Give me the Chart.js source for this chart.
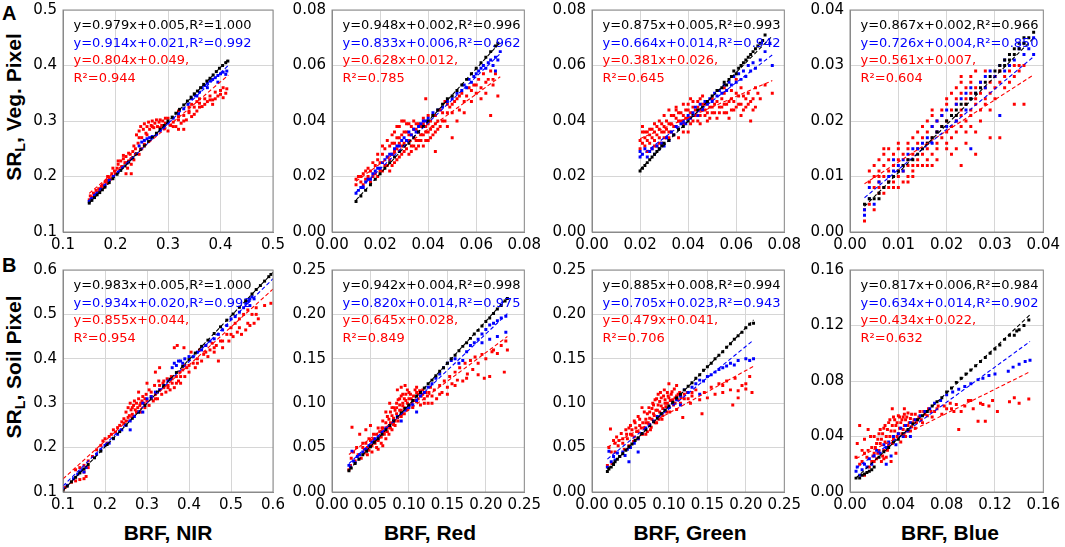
<!DOCTYPE html>
<html lang="en">
<head>
<meta charset="UTF-8">
<title>SR vs BRF</title>
<script src="https://cdn.jsdelivr.net/npm/chart.js"></script>
<style>
    body { margin: 0; width: 1065px; height: 547px; overflow: hidden; background: #fff; position: relative; }
    .box { position: absolute; }
    .lbl { position: absolute; font-family: "Liberation Sans", Arial, sans-serif; font-weight: bold; color: #000; white-space: nowrap; }
    .ytitle { font-size: 21px; transform: translate(-50%, -50%) rotate(-90deg); }
    .ytitle sub { font-size: 0.68em; vertical-align: -0.25em; }
    .xtitle { font-size: 21px; transform: translate(-50%, -50%); }
    .panel { font-size: 20px; }
</style>
</head>
<body>
<div class="lbl panel" style="left:2px;top:2px">A</div>
<div class="lbl panel" style="left:2px;top:254px">B</div>
<div class="lbl ytitle" style="left:15px;top:107px">SR<sub>L</sub>, Veg. Pixel</div>
<div class="lbl ytitle" style="left:15px;top:367px">SR<sub>L</sub>, Soil Pixel</div>
<div class="lbl xtitle" style="left:168px;top:533px">BRF, NIR</div>
<div class="lbl xtitle" style="left:430px;top:533px">BRF, Red</div>
<div class="lbl xtitle" style="left:690px;top:533px">BRF, Green</div>
<div class="lbl xtitle" style="left:950px;top:533px">BRF, Blue</div>

<script>
// ---- data: flat [x, y, x, y, ...] lists ----

// Row A: vegetation pixel
const vegNirBlack = [0.150,0.152, 0.155,0.157, 0.160,0.162, 0.165,0.167, 0.170,0.171, 0.175,0.176, 0.180,0.181, 0.188,0.189, 0.195,0.196, 0.203,0.204, 0.210,0.211, 0.218,0.219, 0.225,0.226, 0.233,0.234, 0.240,0.241, 0.248,0.249, 0.255,0.255, 0.263,0.263, 0.270,0.270, 0.278,0.278, 0.285,0.285, 0.293,0.292, 0.300,0.300, 0.308,0.307, 0.315,0.314, 0.322,0.321, 0.330,0.329, 0.337,0.336, 0.344,0.343, 0.350,0.349, 0.356,0.354, 0.362,0.360, 0.368,0.366, 0.374,0.372, 0.380,0.377, 0.386,0.383, 0.392,0.389, 0.398,0.395, 0.404,0.400, 0.410,0.405, 0.414,0.408];
const vegNirBlue = [0.150,0.155, 0.155,0.160, 0.160,0.166, 0.165,0.170, 0.172,0.177, 0.180,0.184, 0.188,0.193, 0.196,0.200, 0.205,0.208, 0.213,0.216, 0.222,0.224, 0.230,0.232, 0.238,0.240, 0.245,0.255, 0.250,0.262, 0.255,0.265, 0.260,0.268, 0.265,0.270, 0.270,0.272, 0.278,0.276, 0.285,0.282, 0.292,0.288, 0.300,0.296, 0.310,0.305, 0.320,0.313, 0.330,0.322, 0.338,0.330, 0.345,0.340, 0.352,0.346, 0.360,0.352, 0.365,0.360, 0.370,0.364, 0.375,0.368, 0.380,0.372, 0.385,0.375, 0.390,0.378, 0.395,0.382, 0.400,0.385, 0.405,0.388, 0.410,0.384, 0.412,0.390, 0.395,0.370, 0.375,0.360, 0.355,0.345];
const vegNirRed = [0.150,0.158, 0.152,0.165, 0.155,0.163, 0.158,0.170, 0.160,0.168, 0.163,0.175, 0.165,0.172, 0.168,0.178, 0.170,0.176, 0.173,0.182, 0.175,0.185, 0.178,0.180, 0.180,0.190, 0.183,0.193, 0.185,0.188, 0.188,0.198, 0.190,0.195, 0.193,0.205, 0.195,0.200, 0.198,0.210, 0.200,0.205, 0.203,0.215, 0.205,0.222, 0.208,0.212, 0.210,0.228, 0.212,0.218, 0.215,0.232, 0.218,0.225, 0.220,0.236, 0.223,0.215, 0.225,0.228, 0.228,0.240, 0.230,0.222, 0.233,0.245, 0.235,0.230, 0.238,0.250, 0.240,0.275, 0.243,0.260, 0.245,0.282, 0.248,0.290, 0.250,0.270, 0.253,0.285, 0.255,0.295, 0.258,0.278, 0.260,0.290, 0.263,0.298, 0.265,0.285, 0.268,0.292, 0.270,0.300, 0.273,0.288, 0.275,0.296, 0.278,0.302, 0.280,0.290, 0.283,0.298, 0.285,0.302, 0.288,0.292, 0.290,0.300, 0.293,0.286, 0.295,0.296, 0.300,0.282, 0.305,0.292, 0.310,0.298, 0.315,0.290, 0.320,0.302, 0.325,0.296, 0.330,0.310, 0.335,0.302, 0.340,0.315, 0.345,0.308, 0.350,0.325, 0.355,0.318, 0.360,0.332, 0.365,0.326, 0.370,0.340, 0.375,0.335, 0.380,0.345, 0.385,0.338, 0.390,0.352, 0.395,0.345, 0.400,0.355, 0.405,0.342, 0.410,0.350, 0.412,0.358, 0.405,0.360, 0.385,0.330, 0.360,0.340, 0.340,0.325, 0.320,0.318, 0.250,0.250, 0.245,0.240, 0.255,0.258, 0.230,0.205, 0.220,0.205, 0.300,0.305,
    0.185,0.200, 0.195,0.215, 0.205,0.228, 0.215,0.238, 0.225,0.242, 0.235,0.255, 0.245,0.270, 0.260,0.275, 0.270,0.290, 0.285,0.288, 0.295,0.305, 0.310,0.290, 0.320,0.308, 0.330,0.300, 0.340,0.318, 0.350,0.312, 0.360,0.325, 0.370,0.330, 0.380,0.338, 0.390,0.340, 0.400,0.348, 0.355,0.335, 0.345,0.330, 0.330,0.285, 0.320,0.285];

const vegRedBlack = [0.010,0.011, 0.012,0.013, 0.014,0.015, 0.016,0.017, 0.018,0.019, 0.020,0.021, 0.022,0.023, 0.024,0.025, 0.026,0.027, 0.028,0.029, 0.030,0.031, 0.032,0.032, 0.034,0.034, 0.036,0.036, 0.038,0.038, 0.040,0.040, 0.042,0.042, 0.044,0.044, 0.046,0.046, 0.048,0.048, 0.050,0.049, 0.052,0.051, 0.054,0.053, 0.056,0.055, 0.058,0.057, 0.060,0.059, 0.062,0.061, 0.064,0.063, 0.066,0.065, 0.068,0.067, 0.069,0.068];
const vegRedBlue = [0.010,0.014, 0.011,0.015, 0.012,0.016, 0.013,0.016, 0.014,0.018, 0.015,0.019, 0.016,0.019, 0.017,0.021, 0.018,0.022, 0.019,0.023, 0.020,0.023, 0.021,0.025, 0.022,0.026, 0.023,0.027, 0.024,0.028, 0.025,0.028, 0.026,0.030, 0.027,0.031, 0.028,0.031, 0.029,0.033, 0.030,0.034, 0.031,0.033, 0.032,0.036, 0.033,0.035, 0.034,0.037, 0.035,0.036, 0.036,0.038, 0.037,0.039, 0.038,0.040, 0.039,0.040, 0.040,0.041, 0.042,0.043, 0.044,0.044, 0.046,0.045, 0.048,0.047, 0.050,0.048, 0.052,0.050, 0.054,0.051, 0.055,0.053, 0.056,0.052, 0.057,0.055, 0.058,0.054, 0.059,0.056, 0.060,0.057, 0.061,0.058, 0.062,0.059, 0.063,0.060, 0.064,0.059, 0.065,0.061, 0.066,0.062, 0.067,0.060, 0.068,0.063, 0.069,0.062, 0.070,0.065, 0.068,0.058];
const vegRedRed = [0.010,0.017, 0.010,0.019, 0.012,0.018, 0.012,0.020, 0.013,0.021, 0.014,0.019, 0.014,0.022, 0.015,0.020, 0.016,0.018, 0.016,0.022, 0.017,0.020, 0.018,0.024, 0.018,0.021, 0.019,0.026, 0.020,0.022, 0.020,0.025, 0.021,0.028, 0.022,0.024, 0.022,0.030, 0.023,0.027, 0.024,0.022, 0.024,0.031, 0.025,0.028, 0.025,0.035, 0.026,0.025, 0.026,0.032, 0.027,0.030, 0.027,0.038, 0.028,0.027, 0.028,0.034, 0.029,0.031, 0.029,0.040, 0.030,0.029, 0.030,0.036, 0.031,0.033, 0.031,0.039, 0.032,0.028, 0.032,0.035, 0.033,0.031, 0.033,0.038, 0.034,0.034, 0.034,0.040, 0.035,0.030, 0.035,0.037, 0.036,0.033, 0.036,0.039, 0.037,0.035, 0.038,0.031, 0.038,0.041, 0.039,0.036, 0.039,0.048, 0.040,0.033, 0.040,0.039, 0.041,0.037, 0.042,0.035, 0.042,0.042, 0.043,0.029, 0.043,0.039, 0.044,0.037, 0.045,0.044, 0.046,0.040, 0.047,0.047, 0.048,0.043, 0.049,0.045, 0.050,0.034, 0.050,0.046, 0.052,0.048, 0.053,0.044, 0.054,0.050, 0.055,0.043, 0.056,0.049, 0.057,0.052, 0.058,0.047, 0.059,0.053, 0.060,0.050, 0.061,0.055, 0.062,0.052, 0.063,0.057, 0.064,0.050, 0.065,0.055, 0.066,0.042, 0.066,0.058, 0.067,0.053, 0.068,0.057, 0.069,0.049,
    0.011,0.020, 0.013,0.017, 0.015,0.023, 0.017,0.025, 0.019,0.020, 0.019,0.028, 0.021,0.022, 0.021,0.031, 0.023,0.024, 0.023,0.033, 0.024,0.026, 0.025,0.024, 0.025,0.032, 0.026,0.029, 0.026,0.036, 0.027,0.026, 0.027,0.034, 0.028,0.032, 0.028,0.038, 0.029,0.028, 0.029,0.035, 0.030,0.032, 0.030,0.040, 0.031,0.030, 0.031,0.036, 0.032,0.033, 0.032,0.039, 0.033,0.029, 0.033,0.035, 0.034,0.031, 0.034,0.037, 0.035,0.033, 0.035,0.039, 0.036,0.031, 0.036,0.036, 0.037,0.033, 0.037,0.038, 0.038,0.035, 0.038,0.039, 0.039,0.033, 0.039,0.038, 0.040,0.036, 0.040,0.042, 0.041,0.034, 0.041,0.040, 0.042,0.038, 0.043,0.036, 0.043,0.042, 0.044,0.040, 0.045,0.038, 0.046,0.043, 0.047,0.040, 0.048,0.046, 0.050,0.043, 0.051,0.047, 0.053,0.049, 0.055,0.047, 0.058,0.051, 0.060,0.053, 0.062,0.048, 0.064,0.054, 0.067,0.055, 0.048,0.038, 0.052,0.040];

const vegGreenBlack = [0.020,0.022, 0.021,0.023, 0.022,0.024, 0.023,0.025, 0.024,0.026, 0.025,0.027, 0.026,0.028, 0.027,0.029, 0.028,0.030, 0.029,0.031, 0.030,0.032, 0.032,0.033, 0.034,0.035, 0.036,0.037, 0.038,0.038, 0.040,0.040, 0.042,0.042, 0.044,0.044, 0.046,0.045, 0.048,0.047, 0.050,0.049, 0.052,0.051, 0.054,0.052, 0.055,0.054, 0.056,0.053, 0.057,0.055, 0.058,0.056, 0.059,0.058, 0.060,0.057, 0.061,0.059, 0.062,0.060, 0.063,0.061, 0.064,0.062, 0.065,0.063, 0.066,0.064, 0.067,0.065, 0.068,0.066, 0.069,0.067, 0.070,0.068, 0.071,0.069, 0.072,0.071];
const vegGreenBlue = [0.020,0.027, 0.020,0.029, 0.021,0.028, 0.022,0.030, 0.023,0.027, 0.024,0.029, 0.025,0.030, 0.026,0.028, 0.027,0.031, 0.028,0.030, 0.029,0.032, 0.030,0.031, 0.031,0.034, 0.032,0.033, 0.033,0.036, 0.034,0.035, 0.035,0.038, 0.036,0.037, 0.037,0.039, 0.038,0.040, 0.039,0.039, 0.040,0.042, 0.041,0.041, 0.042,0.043, 0.043,0.045, 0.044,0.042, 0.045,0.046, 0.046,0.044, 0.047,0.047, 0.048,0.046, 0.049,0.048, 0.050,0.047, 0.051,0.050, 0.052,0.049, 0.053,0.051, 0.054,0.050, 0.055,0.053, 0.056,0.051, 0.057,0.054, 0.058,0.053, 0.059,0.056, 0.060,0.054, 0.061,0.057, 0.062,0.055, 0.063,0.058, 0.064,0.056, 0.065,0.060, 0.066,0.058, 0.067,0.061, 0.068,0.059, 0.070,0.062, 0.072,0.065, 0.075,0.060, 0.074,0.068];
const vegGreenRed = [0.020,0.030, 0.020,0.033, 0.021,0.036, 0.021,0.038, 0.022,0.031, 0.022,0.034, 0.023,0.029, 0.023,0.036, 0.024,0.032, 0.024,0.035, 0.025,0.030, 0.025,0.037, 0.026,0.033, 0.026,0.036, 0.027,0.031, 0.027,0.038, 0.028,0.034, 0.028,0.040, 0.029,0.032, 0.029,0.036, 0.030,0.038, 0.030,0.042, 0.031,0.034, 0.031,0.040, 0.032,0.036, 0.032,0.044, 0.033,0.039, 0.034,0.035, 0.034,0.042, 0.035,0.038, 0.035,0.045, 0.036,0.040, 0.036,0.034, 0.037,0.043, 0.038,0.039, 0.038,0.046, 0.039,0.041, 0.040,0.036, 0.040,0.044, 0.041,0.048, 0.042,0.040, 0.042,0.045, 0.043,0.042, 0.044,0.047, 0.045,0.039, 0.045,0.044, 0.046,0.049, 0.047,0.042, 0.047,0.046, 0.048,0.040, 0.049,0.045, 0.050,0.043, 0.050,0.048, 0.051,0.046, 0.052,0.041, 0.053,0.045, 0.054,0.048, 0.055,0.043, 0.055,0.050, 0.056,0.046, 0.057,0.041, 0.058,0.048, 0.059,0.044, 0.060,0.050, 0.060,0.055, 0.061,0.046, 0.062,0.042, 0.063,0.049, 0.064,0.045, 0.065,0.050, 0.066,0.040, 0.066,0.047, 0.067,0.044, 0.068,0.052, 0.070,0.048, 0.072,0.053, 0.075,0.050,
    0.021,0.032, 0.022,0.036, 0.023,0.033, 0.024,0.037, 0.025,0.034, 0.026,0.031, 0.026,0.039, 0.027,0.035, 0.028,0.032, 0.028,0.037, 0.029,0.039, 0.030,0.034, 0.030,0.036, 0.031,0.037, 0.032,0.039, 0.032,0.034, 0.033,0.042, 0.033,0.036, 0.034,0.038, 0.035,0.041, 0.036,0.043, 0.036,0.037, 0.037,0.040, 0.038,0.042, 0.038,0.036, 0.039,0.044, 0.040,0.041, 0.041,0.043, 0.041,0.039, 0.042,0.047, 0.043,0.044, 0.044,0.040, 0.044,0.045, 0.045,0.042, 0.046,0.046, 0.047,0.044, 0.048,0.043, 0.048,0.047, 0.049,0.041, 0.050,0.045, 0.051,0.043, 0.052,0.047, 0.053,0.043, 0.054,0.045, 0.055,0.046, 0.056,0.043, 0.057,0.047, 0.058,0.044, 0.059,0.047, 0.060,0.045, 0.061,0.049, 0.062,0.046, 0.063,0.044, 0.064,0.048, 0.065,0.046, 0.067,0.048, 0.068,0.045, 0.069,0.050, 0.055,0.052, 0.058,0.051, 0.062,0.052, 0.035,0.044, 0.040,0.046, 0.045,0.048];

const vegBlueBlack = [0.003,0.005, 0.004,0.006, 0.005,0.006, 0.006,0.006, 0.006,0.007, 0.007,0.008, 0.008,0.009, 0.009,0.010, 0.010,0.011, 0.011,0.012, 0.012,0.013, 0.013,0.013, 0.014,0.014, 0.015,0.015, 0.016,0.016, 0.017,0.017, 0.018,0.018, 0.019,0.019, 0.020,0.020, 0.021,0.021, 0.022,0.021, 0.022,0.022, 0.023,0.023, 0.024,0.023, 0.025,0.024, 0.026,0.025, 0.027,0.026, 0.028,0.027, 0.029,0.028, 0.030,0.029, 0.031,0.029, 0.031,0.030, 0.032,0.030, 0.032,0.031, 0.033,0.031, 0.033,0.032, 0.034,0.032, 0.034,0.033, 0.035,0.033, 0.035,0.034, 0.036,0.034, 0.036,0.035, 0.037,0.035, 0.038,0.036];
const vegBlueBlue = [0.003,0.003, 0.003,0.004, 0.004,0.006, 0.004,0.008, 0.005,0.005, 0.006,0.009, 0.008,0.010, 0.009,0.013, 0.010,0.012, 0.011,0.011, 0.011,0.013, 0.012,0.014, 0.013,0.015, 0.014,0.015, 0.015,0.016, 0.016,0.017, 0.017,0.019, 0.018,0.018, 0.018,0.020, 0.019,0.021, 0.020,0.019, 0.020,0.022, 0.021,0.021, 0.022,0.023, 0.022,0.020, 0.023,0.024, 0.024,0.022, 0.024,0.025, 0.025,0.024, 0.025,0.026, 0.026,0.025, 0.027,0.027, 0.028,0.026, 0.028,0.028, 0.029,0.029, 0.030,0.028, 0.031,0.021, 0.031,0.030, 0.032,0.029, 0.032,0.031, 0.033,0.030, 0.033,0.032, 0.034,0.031, 0.035,0.033, 0.036,0.032, 0.036,0.034, 0.037,0.033, 0.038,0.035, 0.038,0.032, 0.025,0.015, 0.017,0.016, 0.009,0.011];
const vegBlueRed = [0.003,0.002, 0.003,0.004, 0.005,0.004, 0.004,0.005, 0.006,0.007, 0.007,0.007,
    0.005,0.008, 0.006,0.008, 0.007,0.008, 0.008,0.008, 0.009,0.008, 0.010,0.008,
    0.004,0.009, 0.006,0.009, 0.008,0.009, 0.009,0.009, 0.011,0.009, 0.012,0.009,
    0.005,0.010, 0.006,0.010, 0.007,0.010, 0.009,0.010, 0.010,0.010, 0.012,0.010, 0.013,0.010,
    0.004,0.011, 0.006,0.011, 0.008,0.011, 0.010,0.011, 0.011,0.011, 0.013,0.011,
    0.005,0.012, 0.007,0.012, 0.009,0.012, 0.011,0.012, 0.012,0.012, 0.013,0.012, 0.014,0.012, 0.015,0.012, 0.016,0.012, 0.017,0.012, 0.023,0.012,
    0.006,0.013, 0.008,0.013, 0.010,0.013, 0.012,0.013, 0.014,0.013, 0.016,0.013, 0.018,0.013,
    0.007,0.014, 0.009,0.014, 0.011,0.014, 0.013,0.014, 0.015,0.014, 0.017,0.014, 0.021,0.014, 0.026,0.014,
    0.007,0.015, 0.008,0.015, 0.010,0.015, 0.012,0.015, 0.014,0.015, 0.016,0.015, 0.018,0.015, 0.020,0.015, 0.022,0.015,
    0.010,0.016, 0.012,0.016, 0.014,0.016, 0.016,0.016, 0.018,0.016, 0.020,0.016, 0.024,0.016,
    0.013,0.017, 0.015,0.017, 0.017,0.017, 0.019,0.017, 0.021,0.017, 0.029,0.017, 0.031,0.017,
    0.014,0.018, 0.016,0.018, 0.018,0.018, 0.020,0.018, 0.022,0.018, 0.024,0.018, 0.026,0.018,
    0.015,0.019, 0.017,0.019, 0.019,0.019, 0.021,0.019, 0.023,0.019, 0.025,0.019,
    0.016,0.020, 0.018,0.020, 0.020,0.020, 0.022,0.020, 0.024,0.020, 0.027,0.020,
    0.017,0.021, 0.019,0.021, 0.021,0.021, 0.023,0.021, 0.025,0.021,
    0.017,0.022, 0.019,0.022, 0.021,0.022, 0.023,0.022, 0.025,0.022, 0.027,0.022, 0.029,0.022,
    0.020,0.023, 0.022,0.023, 0.024,0.023, 0.026,0.023, 0.028,0.023, 0.034,0.023, 0.036,0.023,
    0.020,0.024, 0.022,0.024, 0.024,0.024, 0.026,0.024, 0.028,0.024, 0.030,0.024,
    0.021,0.025, 0.023,0.025, 0.025,0.025, 0.027,0.025, 0.029,0.025,
    0.022,0.026, 0.024,0.026, 0.026,0.026, 0.028,0.026, 0.030,0.026, 0.032,0.026,
    0.023,0.027, 0.025,0.027, 0.027,0.027, 0.029,0.027, 0.031,0.027, 0.033,0.027,
    0.023,0.028, 0.025,0.028, 0.030,0.028, 0.032,0.028, 0.034,0.028,
    0.026,0.029, 0.028,0.029, 0.031,0.029, 0.033,0.029, 0.035,0.029,
    0.033,0.030, 0.034,0.030, 0.035,0.030, 0.036,0.030];

// Row B: soil pixel
const soilNirBlack = [0.100,0.103, 0.110,0.113, 0.120,0.123, 0.130,0.133, 0.140,0.143, 0.150,0.152, 0.160,0.162, 0.175,0.177, 0.190,0.192, 0.205,0.207, 0.220,0.221, 0.235,0.236, 0.250,0.251, 0.265,0.266, 0.280,0.280, 0.295,0.295, 0.310,0.310, 0.325,0.325, 0.340,0.339, 0.355,0.354, 0.370,0.369, 0.385,0.383, 0.400,0.398, 0.415,0.413, 0.430,0.428, 0.445,0.442, 0.460,0.457, 0.475,0.472, 0.490,0.487, 0.505,0.501, 0.520,0.516, 0.535,0.531, 0.550,0.546, 0.560,0.556, 0.570,0.565, 0.580,0.575, 0.590,0.585, 0.595,0.590];
const soilNirBlue = [0.100,0.108, 0.110,0.115, 0.125,0.130, 0.135,0.140, 0.140,0.145, 0.145,0.150, 0.150,0.145, 0.155,0.155, 0.180,0.185, 0.190,0.195, 0.200,0.205, 0.210,0.210, 0.220,0.220, 0.230,0.230, 0.240,0.240, 0.250,0.250, 0.260,0.260, 0.270,0.270, 0.280,0.280, 0.290,0.300, 0.300,0.310, 0.310,0.315, 0.320,0.325, 0.330,0.330, 0.340,0.340, 0.350,0.350, 0.360,0.380, 0.365,0.390, 0.370,0.385, 0.375,0.395, 0.380,0.395, 0.385,0.390, 0.390,0.400, 0.400,0.405, 0.410,0.405, 0.420,0.415, 0.430,0.420, 0.440,0.430, 0.450,0.440, 0.460,0.445, 0.470,0.455, 0.480,0.465, 0.490,0.475, 0.500,0.490, 0.510,0.495, 0.520,0.505, 0.530,0.515, 0.535,0.525, 0.540,0.530, 0.545,0.535, 0.550,0.540, 0.555,0.535, 0.545,0.520, 0.260,0.240, 0.290,0.280];
const soilNirRed = [0.100,0.105, 0.105,0.110, 0.120,0.122, 0.130,0.125, 0.140,0.128, 0.150,0.130, 0.155,0.135, 0.130,0.150, 0.140,0.155, 0.150,0.160, 0.160,0.170, 0.170,0.180, 0.180,0.195, 0.190,0.205, 0.195,0.215, 0.200,0.220, 0.205,0.210, 0.210,0.225, 0.215,0.230, 0.220,0.240, 0.225,0.235, 0.230,0.245, 0.235,0.250, 0.240,0.258, 0.245,0.265, 0.250,0.280, 0.250,0.260, 0.255,0.290, 0.258,0.272, 0.260,0.300, 0.262,0.285, 0.265,0.275, 0.268,0.295, 0.270,0.305, 0.272,0.285, 0.275,0.300, 0.278,0.290, 0.280,0.310, 0.283,0.295, 0.285,0.280, 0.288,0.305, 0.290,0.315, 0.293,0.300, 0.295,0.290, 0.298,0.320, 0.300,0.305, 0.305,0.295, 0.305,0.330, 0.310,0.315, 0.315,0.305, 0.318,0.340, 0.320,0.320, 0.325,0.310, 0.328,0.350, 0.330,0.330, 0.335,0.320, 0.338,0.345, 0.340,0.335, 0.345,0.325, 0.348,0.355, 0.350,0.340, 0.355,0.330, 0.358,0.360, 0.360,0.345, 0.365,0.335, 0.365,0.425, 0.370,0.360, 0.372,0.430, 0.375,0.350, 0.378,0.370, 0.380,0.345, 0.385,0.375, 0.388,0.425, 0.390,0.360, 0.395,0.380, 0.400,0.370, 0.405,0.415, 0.410,0.390, 0.415,0.380, 0.420,0.400, 0.425,0.420, 0.430,0.395, 0.435,0.410, 0.440,0.430, 0.445,0.405, 0.450,0.420, 0.455,0.435, 0.460,0.415, 0.465,0.430, 0.470,0.395, 0.475,0.440, 0.480,0.425, 0.490,0.455, 0.495,0.440, 0.500,0.470, 0.505,0.450, 0.510,0.480, 0.515,0.460, 0.520,0.490, 0.525,0.455, 0.530,0.500, 0.535,0.465, 0.540,0.510, 0.545,0.475, 0.550,0.500, 0.555,0.480, 0.560,0.515, 0.565,0.490, 0.580,0.520, 0.595,0.525, 0.330,0.380, 0.320,0.370, 0.300,0.345, 0.280,0.325,
    0.245,0.255, 0.255,0.268, 0.265,0.290, 0.275,0.280, 0.285,0.300, 0.295,0.310, 0.310,0.325, 0.320,0.310, 0.330,0.340, 0.340,0.350, 0.350,0.335, 0.360,0.355, 0.370,0.345, 0.380,0.360, 0.390,0.385, 0.400,0.385, 0.420,0.390, 0.440,0.415, 0.460,0.425, 0.480,0.440, 0.500,0.455, 0.520,0.470, 0.540,0.480, 0.560,0.500, 0.150,0.145, 0.160,0.155];

const soilRedBlack = [0.022,0.024, 0.025,0.027, 0.030,0.032, 0.035,0.037, 0.040,0.042, 0.045,0.046, 0.050,0.051, 0.055,0.056, 0.060,0.060, 0.065,0.065, 0.070,0.070, 0.075,0.075, 0.080,0.080, 0.085,0.084, 0.090,0.089, 0.095,0.094, 0.100,0.098, 0.105,0.103, 0.110,0.108, 0.115,0.112, 0.120,0.117, 0.125,0.122, 0.130,0.126, 0.135,0.131, 0.140,0.136, 0.145,0.140, 0.150,0.145, 0.155,0.150, 0.160,0.154, 0.165,0.159, 0.170,0.164, 0.175,0.168, 0.180,0.173, 0.185,0.178, 0.190,0.182, 0.195,0.187, 0.200,0.192, 0.205,0.196, 0.210,0.201, 0.215,0.206, 0.220,0.210, 0.225,0.215, 0.228,0.218];
const soilRedBlue = [0.022,0.030, 0.024,0.028, 0.026,0.046, 0.028,0.035, 0.030,0.033, 0.033,0.040, 0.036,0.042, 0.040,0.045, 0.044,0.048, 0.048,0.052, 0.052,0.056, 0.056,0.060, 0.060,0.062, 0.065,0.068, 0.070,0.072, 0.075,0.075, 0.080,0.080, 0.085,0.085, 0.090,0.088, 0.095,0.092, 0.100,0.095, 0.105,0.098, 0.110,0.103, 0.115,0.108, 0.120,0.112, 0.125,0.118, 0.130,0.122, 0.135,0.128, 0.140,0.133, 0.145,0.140, 0.150,0.145, 0.155,0.148, 0.160,0.150, 0.165,0.145, 0.170,0.148, 0.175,0.158, 0.180,0.165, 0.185,0.168, 0.190,0.172, 0.195,0.178, 0.200,0.183, 0.205,0.188, 0.210,0.190, 0.215,0.193, 0.220,0.196, 0.226,0.198, 0.195,0.168, 0.205,0.172, 0.215,0.175, 0.226,0.180, 0.110,0.090, 0.090,0.080];
const soilRedRed = [0.022,0.025, 0.024,0.030, 0.025,0.038, 0.026,0.073, 0.028,0.045, 0.030,0.035, 0.032,0.050, 0.034,0.042, 0.036,0.065, 0.038,0.038, 0.040,0.055, 0.042,0.048, 0.044,0.070, 0.046,0.042, 0.048,0.060, 0.050,0.075, 0.050,0.052, 0.052,0.045, 0.054,0.065, 0.056,0.058, 0.058,0.050, 0.060,0.072, 0.062,0.062, 0.064,0.055, 0.066,0.080, 0.068,0.068, 0.070,0.060, 0.072,0.085, 0.072,0.072, 0.074,0.065, 0.076,0.090, 0.076,0.078, 0.078,0.070, 0.080,0.095, 0.080,0.083, 0.082,0.075, 0.084,0.100, 0.084,0.088, 0.086,0.080, 0.088,0.105, 0.088,0.092, 0.090,0.085, 0.092,0.110, 0.092,0.097, 0.094,0.088, 0.096,0.103, 0.098,0.093, 0.100,0.112, 0.100,0.098, 0.103,0.105, 0.105,0.095, 0.108,0.115, 0.110,0.102, 0.112,0.110, 0.115,0.098, 0.118,0.115, 0.120,0.105, 0.122,0.112, 0.125,0.100, 0.128,0.118, 0.130,0.108, 0.133,0.115, 0.136,0.105, 0.140,0.120, 0.143,0.112, 0.146,0.125, 0.150,0.118, 0.153,0.130, 0.156,0.122, 0.160,0.135, 0.163,0.126, 0.166,0.140, 0.170,0.125, 0.173,0.145, 0.176,0.133, 0.180,0.148, 0.183,0.138, 0.186,0.152, 0.190,0.145, 0.195,0.155, 0.198,0.128, 0.200,0.150, 0.205,0.130, 0.208,0.158, 0.210,0.160, 0.215,0.156, 0.220,0.165, 0.224,0.135, 0.226,0.170, 0.228,0.160, 0.085,0.115, 0.075,0.100, 0.065,0.072, 0.095,0.120, 0.110,0.118,
    0.040,0.050, 0.042,0.044, 0.044,0.055, 0.046,0.050, 0.048,0.047, 0.050,0.058, 0.052,0.052, 0.054,0.060, 0.056,0.055, 0.058,0.065, 0.060,0.058, 0.062,0.068, 0.064,0.062, 0.066,0.072, 0.068,0.065, 0.070,0.078, 0.072,0.068, 0.074,0.082, 0.076,0.072, 0.078,0.086, 0.080,0.076, 0.082,0.092, 0.082,0.080, 0.084,0.095, 0.086,0.085, 0.086,0.104, 0.088,0.098, 0.090,0.092, 0.090,0.108, 0.092,0.100, 0.094,0.105, 0.094,0.095, 0.096,0.110, 0.098,0.100, 0.098,0.115, 0.100,0.105, 0.102,0.110, 0.104,0.100, 0.106,0.108, 0.108,0.103, 0.110,0.112, 0.112,0.105, 0.114,0.114, 0.116,0.108, 0.118,0.110, 0.120,0.100, 0.124,0.108, 0.126,0.112, 0.070,0.090, 0.078,0.095, 0.090,0.118, 0.060,0.048, 0.066,0.052, 0.150,0.110, 0.160,0.120, 0.175,0.128, 0.190,0.132, 0.140,0.110, 0.130,0.100];

const soilGreenBlack = [0.020,0.023, 0.022,0.026, 0.025,0.028, 0.028,0.031, 0.030,0.034, 0.033,0.037, 0.036,0.040, 0.040,0.043, 0.044,0.047, 0.048,0.051, 0.052,0.054, 0.056,0.058, 0.060,0.061, 0.065,0.066, 0.070,0.070, 0.075,0.075, 0.080,0.079, 0.085,0.083, 0.090,0.088, 0.095,0.092, 0.100,0.097, 0.105,0.101, 0.110,0.106, 0.115,0.110, 0.120,0.115, 0.125,0.119, 0.130,0.123, 0.135,0.128, 0.140,0.132, 0.145,0.137, 0.150,0.141, 0.155,0.145, 0.160,0.150, 0.165,0.154, 0.170,0.158, 0.175,0.163, 0.180,0.167, 0.185,0.172, 0.190,0.176, 0.195,0.180, 0.200,0.185, 0.205,0.189, 0.210,0.190];
const soilGreenBlue = [0.020,0.028, 0.022,0.046, 0.025,0.034, 0.028,0.040, 0.030,0.036, 0.033,0.044, 0.036,0.040, 0.040,0.045, 0.043,0.041, 0.046,0.048, 0.048,0.034, 0.050,0.050, 0.055,0.055, 0.060,0.060, 0.065,0.066, 0.070,0.072, 0.075,0.076, 0.080,0.080, 0.085,0.085, 0.090,0.088, 0.095,0.092, 0.100,0.095, 0.105,0.100, 0.110,0.104, 0.115,0.108, 0.120,0.115, 0.125,0.112, 0.130,0.118, 0.135,0.122, 0.140,0.126, 0.145,0.125, 0.150,0.130, 0.155,0.132, 0.160,0.135, 0.165,0.138, 0.170,0.140, 0.175,0.142, 0.180,0.145, 0.185,0.143, 0.190,0.148, 0.200,0.150, 0.205,0.148, 0.210,0.150, 0.115,0.098, 0.140,0.110, 0.060,0.045];
const soilGreenRed = [0.020,0.030, 0.022,0.050, 0.024,0.071, 0.026,0.032, 0.028,0.058, 0.030,0.045, 0.032,0.062, 0.034,0.052, 0.036,0.040, 0.038,0.066, 0.040,0.055, 0.042,0.048, 0.044,0.070, 0.046,0.060, 0.048,0.052, 0.050,0.075, 0.052,0.064, 0.054,0.057, 0.056,0.078, 0.058,0.068, 0.060,0.060, 0.062,0.082, 0.064,0.072, 0.066,0.065, 0.068,0.090, 0.070,0.078, 0.072,0.068, 0.074,0.095, 0.075,0.083, 0.077,0.073, 0.079,0.100, 0.080,0.088, 0.082,0.078, 0.084,0.105, 0.085,0.092, 0.087,0.082, 0.089,0.112, 0.090,0.097, 0.092,0.086, 0.094,0.115, 0.095,0.100, 0.097,0.090, 0.099,0.108, 0.100,0.095, 0.102,0.103, 0.104,0.113, 0.106,0.098, 0.108,0.106, 0.110,0.093, 0.112,0.110, 0.115,0.100, 0.118,0.084, 0.120,0.105, 0.124,0.112, 0.128,0.100, 0.130,0.108, 0.135,0.115, 0.140,0.104, 0.143,0.088, 0.146,0.112, 0.150,0.106, 0.155,0.118, 0.160,0.110, 0.165,0.122, 0.170,0.112, 0.175,0.125, 0.180,0.115, 0.183,0.098, 0.186,0.128, 0.190,0.106, 0.195,0.120, 0.200,0.116, 0.205,0.130, 0.208,0.112, 0.110,0.120, 0.100,0.122, 0.065,0.095,
    0.050,0.065, 0.052,0.070, 0.055,0.062, 0.057,0.072, 0.060,0.068, 0.062,0.075, 0.064,0.065, 0.066,0.078, 0.068,0.072, 0.070,0.082, 0.070,0.065, 0.072,0.088, 0.073,0.078, 0.075,0.090, 0.076,0.070, 0.078,0.094, 0.078,0.082, 0.080,0.098, 0.081,0.086, 0.082,0.104, 0.083,0.092, 0.084,0.078, 0.086,0.098, 0.086,0.110, 0.088,0.090, 0.088,0.102, 0.090,0.106, 0.091,0.082, 0.092,0.094, 0.093,0.108, 0.095,0.104, 0.096,0.096, 0.098,0.112, 0.098,0.100, 0.100,0.106, 0.101,0.090, 0.103,0.110, 0.105,0.104, 0.107,0.116, 0.108,0.100, 0.110,0.108, 0.112,0.104, 0.114,0.112, 0.116,0.106, 0.120,0.110, 0.125,0.105, 0.130,0.112, 0.040,0.060, 0.045,0.065, 0.035,0.058, 0.030,0.055, 0.025,0.045, 0.048,0.072, 0.060,0.085, 0.055,0.080, 0.170,0.120, 0.190,0.114, 0.200,0.122];

const soilBlueBlack = [0.005,0.010, 0.008,0.010, 0.010,0.012, 0.012,0.013, 0.014,0.014, 0.016,0.015, 0.018,0.016, 0.020,0.018, 0.024,0.025, 0.028,0.029, 0.032,0.032, 0.036,0.036, 0.040,0.038, 0.044,0.042, 0.048,0.045, 0.052,0.049, 0.056,0.052, 0.060,0.055, 0.064,0.058, 0.068,0.062, 0.072,0.065, 0.076,0.068, 0.080,0.072, 0.084,0.075, 0.088,0.079, 0.092,0.082, 0.096,0.085, 0.100,0.088, 0.104,0.091, 0.108,0.094, 0.112,0.097, 0.116,0.100, 0.120,0.103, 0.124,0.106, 0.128,0.110, 0.132,0.113, 0.136,0.113, 0.140,0.117, 0.144,0.120, 0.148,0.124, 0.138,0.116];
const soilBlueBlue = [0.005,0.015, 0.006,0.018, 0.008,0.012, 0.010,0.016, 0.012,0.020, 0.014,0.018, 0.016,0.024, 0.018,0.020, 0.020,0.026, 0.022,0.030, 0.025,0.028, 0.028,0.034, 0.030,0.032, 0.032,0.036, 0.034,0.026, 0.036,0.040, 0.038,0.034, 0.040,0.042, 0.042,0.046, 0.044,0.040, 0.046,0.048, 0.048,0.044, 0.050,0.050, 0.054,0.052, 0.058,0.055, 0.062,0.058, 0.066,0.060, 0.070,0.064, 0.075,0.066, 0.080,0.070, 0.085,0.072, 0.090,0.074, 0.095,0.076, 0.100,0.078, 0.106,0.081, 0.110,0.082, 0.115,0.084, 0.120,0.085, 0.131,0.087, 0.135,0.090, 0.140,0.092, 0.145,0.094, 0.149,0.095, 0.030,0.020, 0.050,0.040];
const soilBlueRed = [0.005,0.025, 0.006,0.035, 0.008,0.048, 0.008,0.020, 0.010,0.030, 0.012,0.012, 0.012,0.038, 0.014,0.025, 0.015,0.045, 0.016,0.018, 0.018,0.032, 0.018,0.022, 0.020,0.040, 0.020,0.028, 0.022,0.035, 0.022,0.024, 0.024,0.042, 0.024,0.030, 0.026,0.022, 0.026,0.038, 0.028,0.046, 0.028,0.030, 0.030,0.025, 0.030,0.040, 0.032,0.050, 0.032,0.034, 0.034,0.022, 0.034,0.044, 0.036,0.054, 0.036,0.038, 0.038,0.028, 0.038,0.048, 0.040,0.055, 0.040,0.042, 0.042,0.050, 0.042,0.036, 0.044,0.054, 0.044,0.045, 0.046,0.040, 0.046,0.052, 0.048,0.048, 0.048,0.057, 0.050,0.044, 0.050,0.053, 0.052,0.050, 0.054,0.056, 0.054,0.046, 0.056,0.052, 0.058,0.058, 0.060,0.050, 0.062,0.056, 0.065,0.060, 0.068,0.054, 0.070,0.058, 0.073,0.062, 0.076,0.056, 0.080,0.060, 0.083,0.064, 0.086,0.058, 0.090,0.045, 0.092,0.058, 0.095,0.062, 0.098,0.066, 0.102,0.060, 0.106,0.051, 0.108,0.064, 0.112,0.051, 0.115,0.062, 0.118,0.066, 0.122,0.058, 0.132,0.065, 0.136,0.068, 0.140,0.064, 0.148,0.067, 0.035,0.060, 0.045,0.060,
    0.015,0.030, 0.017,0.040, 0.019,0.026, 0.021,0.032, 0.023,0.038, 0.023,0.028, 0.025,0.035, 0.025,0.045, 0.027,0.026, 0.027,0.042, 0.029,0.036, 0.029,0.048, 0.031,0.030, 0.031,0.045, 0.033,0.040, 0.033,0.052, 0.035,0.035, 0.035,0.048, 0.037,0.044, 0.037,0.052, 0.039,0.040, 0.039,0.050, 0.041,0.046, 0.041,0.054, 0.043,0.042, 0.043,0.052, 0.045,0.048, 0.045,0.056, 0.047,0.044, 0.047,0.054, 0.049,0.050, 0.051,0.047, 0.051,0.056, 0.053,0.052, 0.055,0.050, 0.057,0.054, 0.059,0.052, 0.061,0.058, 0.064,0.055, 0.067,0.058, 0.072,0.060, 0.078,0.062, 0.084,0.060, 0.088,0.063, 0.100,0.066, 0.110,0.063, 0.020,0.022, 0.028,0.024, 0.012,0.028, 0.010,0.022];

// fitted lines as printed on each panel: [slope, intercept, R²] for black, blue, red
const vegNirFit    = [[0.979, 0.005, '1.000'], [0.914, 0.021, '0.992'], [0.804, 0.049, '0.944']];
const vegRedFit    = [[0.948, 0.002, '0.996'], [0.833, 0.006, '0.962'], [0.628, 0.012, '0.785']];
const vegGreenFit  = [[0.875, 0.005, '0.993'], [0.664, 0.014, '0.942'], [0.381, 0.026, '0.645']];
const vegBlueFit   = [[0.867, 0.002, '0.966'], [0.726, 0.004, '0.850'], [0.561, 0.007, '0.604']];
const soilNirFit   = [[0.983, 0.005, '1.000'], [0.934, 0.020, '0.992'], [0.855, 0.044, '0.954']];
const soilRedFit   = [[0.942, 0.004, '0.998'], [0.820, 0.014, '0.975'], [0.645, 0.028, '0.849']];
const soilGreenFit = [[0.885, 0.008, '0.994'], [0.705, 0.023, '0.943'], [0.479, 0.041, '0.706']];
const soilBlueFit  = [[0.817, 0.006, '0.984'], [0.634, 0.014, '0.902'], [0.434, 0.022, '0.632']];

// x span covered by the fitted lines
const vegFitSpan  = [[0.15, 0.415], [0.01, 0.07], [0.02, 0.075], [0.003, 0.038]];
const soilFitSpan = [[0.10, 0.60], [0.022, 0.228], [0.02, 0.21], [0.005, 0.149]];

// axis ranges: [min, max, step, decimals]
const axisNir    = [0.1, 0.5, 0.1, 1];
const axisVegRG  = [0, 0.08, 0.02, 2];
const axisVegB   = [0, 0.04, 0.01, 2];
const axisSoilN  = [0.1, 0.6, 0.1, 1];
const axisSoilRG = [0, 0.25, 0.05, 2];
const axisSoilB  = [0, 0.16, 0.04, 2];

// ---- layout ----
const colLeft = [63, 332, 592, 850];
const colWidth = [210, 195, 195, 196];
const rowTop = [7, 267];
const plotH = 225;
const yAxisW = 50, xAxisH = 30, padTop = 12, padRight = 18;

const seriesColors = ['#000000', '#0000ff', '#ff0000'];

const panels = [
    { row: 0, col: 0, axis: axisNir,    pts: [vegNirBlack, vegNirBlue, vegNirRed],       fit: vegNirFit,    span: vegFitSpan[0] },
    { row: 0, col: 1, axis: axisVegRG,  pts: [vegRedBlack, vegRedBlue, vegRedRed],       fit: vegRedFit,    span: vegFitSpan[1] },
    { row: 0, col: 2, axis: axisVegRG,  pts: [vegGreenBlack, vegGreenBlue, vegGreenRed], fit: vegGreenFit,  span: vegFitSpan[2] },
    { row: 0, col: 3, axis: axisVegB,   pts: [vegBlueBlack, vegBlueBlue, vegBlueRed],    fit: vegBlueFit,   span: vegFitSpan[3] },
    { row: 1, col: 0, axis: axisSoilN,  pts: [soilNirBlack, soilNirBlue, soilNirRed],    fit: soilNirFit,   span: soilFitSpan[0] },
    { row: 1, col: 1, axis: axisSoilRG, pts: [soilRedBlack, soilRedBlue, soilRedRed],    fit: soilRedFit,   span: soilFitSpan[1] },
    { row: 1, col: 2, axis: axisSoilRG, pts: [soilGreenBlack, soilGreenBlue, soilGreenRed], fit: soilGreenFit, span: soilFitSpan[2] },
    { row: 1, col: 3, axis: axisSoilB,  pts: [soilBlueBlack, soilBlueBlue, soilBlueRed], fit: soilBlueFit,  span: soilFitSpan[3] }
];

function toPoints(flat) {
    const out = [];
    for (let i = 0; i < flat.length; i += 2) out.push({ x: flat[i], y: flat[i + 1] });
    return out;
}

// frame round the plot area plus the regression equations
const panelDecor = {
    id: 'panelDecor',
    afterDatasetsDraw(chart, args, opts) {
        const { ctx, chartArea: a } = chart;
        ctx.save();
        ctx.strokeStyle = '#8a8a8a';
        ctx.lineWidth = 1;
        ctx.strokeRect(a.left, a.top, a.right - a.left, a.bottom - a.top);
        ctx.font = '13px "DejaVu Sans"';
        ctx.textBaseline = 'alphabetic';
        opts.lines.forEach((ln, i) => {
            ctx.fillStyle = ln.color;
            ctx.fillText(ln.text, a.left + 10.5, a.top + 19 + i * 17.7);
        });
        ctx.restore();
    }
};

panels.forEach(p => {
    const div = document.createElement('div');
    div.className = 'box';
    const w = yAxisW + colWidth[p.col] + padRight;
    const h = padTop + plotH + xAxisH;
    div.style.left = (colLeft[p.col] - yAxisW) + 'px';
    div.style.top = (rowTop[p.row] - padTop) + 'px';
    div.style.width = w + 'px';
    div.style.height = h + 'px';
    const canvas = document.createElement('canvas');
    div.appendChild(canvas);
    document.body.appendChild(div);

    const [amin, amax, astep, dec] = p.axis;
    const datasets = [];
    // fit lines first so they sit on top
    p.fit.forEach((f, i) => {
        datasets.push({
            data: [
                { x: p.span[0], y: f[0] * p.span[0] + f[1] },
                { x: p.span[1], y: f[0] * p.span[1] + f[1] }
            ],
            showLine: true,
            borderColor: seriesColors[i],
            borderWidth: 1.1,
            borderDash: [4, 2.5],
            pointRadius: 0,
            order: 0
        });
    });
    p.pts.forEach((arr, i) => {
        datasets.push({
            data: toPoints(arr),
            pointStyle: 'rect',
            pointRadius: 2.1,
            pointBorderWidth: 0,
            backgroundColor: seriesColors[i],
            borderColor: seriesColors[i],
            order: 1
        });
    });

    const f = p.fit;
    const eq = k => 'y=' + f[k][0].toFixed(3) + 'x+' + f[k][1].toFixed(3) + ',';
    const lines = [
        { text: eq(0) + 'R\u00b2=' + f[0][2], color: seriesColors[0] },
        { text: eq(1) + 'R\u00b2=' + f[1][2], color: seriesColors[1] },
        { text: eq(2), color: seriesColors[2] },
        { text: 'R\u00b2=' + f[2][2], color: seriesColors[2] }
    ];

    const tickFont = { family: 'DejaVu Sans', size: 15 };
    const axisCommon = {
        type: 'linear',
        min: amin,
        max: amax,
        grid: { color: '#d6d6d6', lineWidth: 1, drawTicks: false },
        border: { display: true, color: '#8a8a8a', width: 1 }
    };

    new Chart(canvas.getContext('2d'), {
        type: 'scatter',
        data: { datasets },
        options: {
            responsive: true,
            maintainAspectRatio: false,
            animation: false,
            layout: { padding: { top: padTop, right: padRight, left: 0, bottom: 0 } },
            plugins: {
                legend: { display: false },
                tooltip: { enabled: false },
                panelDecor: { lines }
            },
            scales: {
                x: Object.assign({}, axisCommon, {
                    position: 'bottom',
                    ticks: {
                        stepSize: astep, autoSkip: false, maxRotation: 0, minRotation: 0,
                        padding: 4, color: '#000', font: tickFont,
                        callback: v => Number(v).toFixed(dec)
                    },
                    afterFit: s => { s.height = xAxisH; }
                }),
                y: Object.assign({}, axisCommon, {
                    position: 'left',
                    ticks: {
                        stepSize: astep, autoSkip: false,
                        padding: 6, color: '#000', font: tickFont,
                        callback: v => Number(v).toFixed(dec)
                    },
                    afterFit: s => { s.width = yAxisW; }
                })
            }
        },
        plugins: [panelDecor]
    });
});
</script>
</body>
</html>
